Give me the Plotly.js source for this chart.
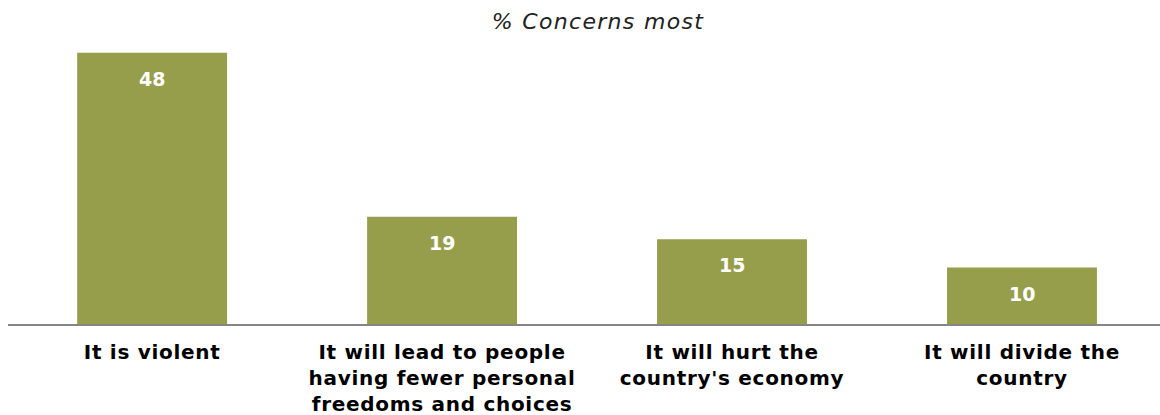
<!DOCTYPE html>
<html>
<head>
<meta charset="utf-8">
<script src="https://cdn.plot.ly/plotly-3.0.1.min.js"></script>
<style>
html,body{margin:0;padding:0;background:#fff;}
#chart{width:1160px;height:415px;}
#chart .xtick text{letter-spacing:0.7px;}
#chart .gtitle{letter-spacing:1.3px;}
</style>
</head>
<body>
<div id="chart"></div>
<script>
const categories = ["It is violent", "It will lead to people having fewer personal freedoms and choices", "It will hurt the country's economy", "It will divide the country"];
const tickLabels = ["It is violent", "It will lead to people<br>having fewer personal<br>freedoms and choices", "It will hurt the<br>country's economy", "It will divide the<br>country"];
const values = [48, 19, 15, 10];
const chartTitle = "% Concerns most";

const barColor = "#979e4b";
const fontFam = "Verdana, 'DejaVu Sans', sans-serif";

const trace = {
  type: "bar",
  x: categories,
  y: values,
  width: 0.517,
  marker: {color: barColor, line: {width: 0}},
  hoverinfo: "skip"
};

const annotations = categories.map((c, i) => ({
  x: c, y: values[i], xref: "x", yref: "y",
  text: "<b>" + values[i] + "</b>",
  showarrow: false, yanchor: "middle", yshift: -26,
  font: {family: fontFam, size: 19, color: "#ffffff"}
}));

const layout = {
  width: 1160, height: 415,
  margin: {l: 8, r: 0, t: 40, b: 91},
  paper_bgcolor: "#ffffff", plot_bgcolor: "#ffffff",
  title: {text: "<i>" + chartTitle + "</i>", x: 0.5155, xanchor: "center", y: 0.948, yanchor: "middle",
          font: {family: fontFam, size: 22, color: "#222222"}},
  showlegend: false,
  xaxis: {
    range: [-0.497, 3.476],
    tickmode: "array", tickvals: categories, ticktext: tickLabels.map(t => "<b>" + t + "</b>"),
    ticks: "", showgrid: false, zeroline: false,
    showline: true, linecolor: "#868686", linewidth: 2,
    tickfont: {family: fontFam, size: 20, color: "#000000"},
    ticklabelstandoff: 9,
    automargin: false
  },
  yaxis: {
    range: [0, 50.27],
    visible: false, showgrid: false, zeroline: false, fixedrange: true
  },
  annotations: annotations
};

Plotly.newPlot("chart", [trace], layout, {displayModeBar: false, staticPlot: true});
</script>
</body>
</html>
